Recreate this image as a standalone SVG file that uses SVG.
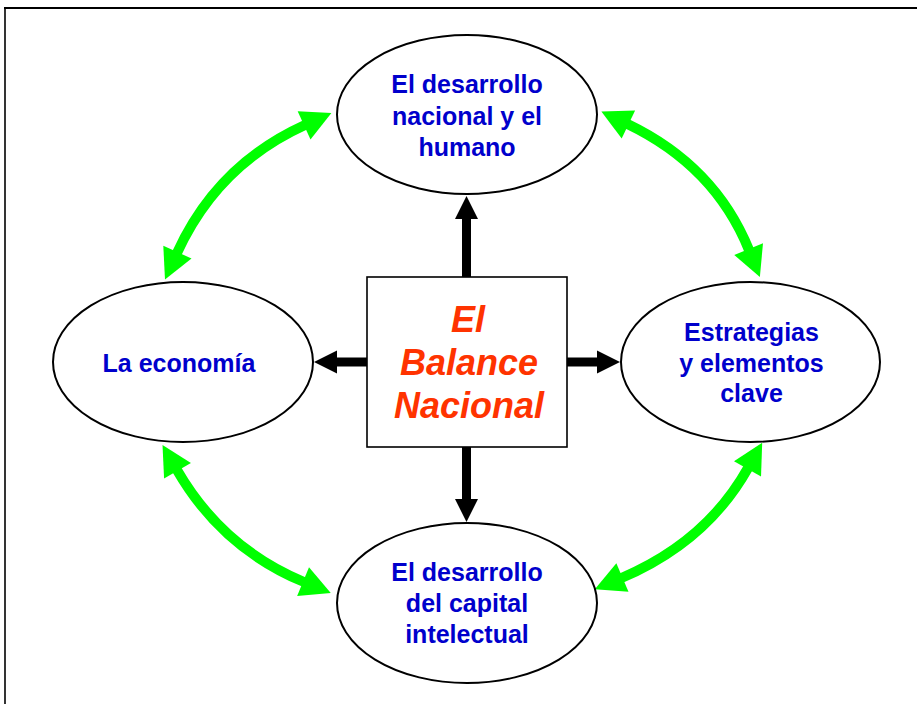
<svg xmlns="http://www.w3.org/2000/svg" width="917" height="704" viewBox="0 0 917 704">
<style>
.bg{fill:#ffffff}
.frame{stroke:#000;fill:none}
.node ellipse{fill:#fff;stroke:#000;stroke-width:2}
.node rect{fill:#fff;stroke:#000;stroke-width:1.6}
.lbl{font-family:"Liberation Sans",Arial,sans-serif;font-weight:bold;font-size:25px;fill:#0000CC;text-anchor:middle}
.title{font-family:"Liberation Sans",Arial,sans-serif;font-weight:bold;font-style:italic;font-size:36px;fill:#FF3300;text-anchor:middle}
.green{fill:none;stroke:#00FF00;stroke-width:10;marker-start:url(#gh);marker-end:url(#gh)}
.black{fill:none;stroke:#000;stroke-width:9;marker-end:url(#bh)}
</style>
<defs>
<marker id="gh" markerUnits="userSpaceOnUse" markerWidth="31" markerHeight="31" refX="1" refY="15.5" orient="auto-start-reverse" overflow="visible">
<path d="M0,0 L30,15.5 L0,31 z" fill="#00FF00"/>
</marker>
<marker id="bh" markerUnits="userSpaceOnUse" markerWidth="23" markerHeight="23" refX="1" refY="11.5" orient="auto" overflow="visible">
<path d="M0,0 L23,11.5 L0,23 z" fill="#000"/>
</marker>
</defs>
<rect class="bg" x="0" y="0" width="917" height="704"/>
<line class="frame" x1="4" y1="8" x2="917" y2="8" stroke-width="2"/>
<line class="frame" x1="5" y1="8" x2="5" y2="704" stroke-width="1.6"/>

<g id="connectors">
<path class="green" d="M305,125 Q217,165 177,253"/>
<path class="green" d="M627.5,124 Q715,166 749,250"/>
<path class="green" d="M177,470 Q222,548 304,582"/>
<path class="green" d="M748,468 Q706.6,541.8 621.5,578"/>
<line class="black" x1="466.5" y1="277" x2="466.5" y2="218"/>
<line class="black" x1="466.5" y1="447" x2="466.5" y2="500"/>
<line class="black" x1="367" y1="362" x2="336" y2="362"/>
<line class="black" x1="567" y1="362" x2="598" y2="362"/>
</g>

<g id="node-top" class="node">
<ellipse cx="467" cy="114.5" rx="130" ry="79.5"/>
<text class="lbl" x="467" y="93">El desarrollo</text>
<text class="lbl" x="467" y="124.5">nacional y el</text>
<text class="lbl" x="467" y="156">humano</text>
</g>

<g id="node-left" class="node">
<ellipse cx="183" cy="362" rx="130" ry="80"/>
<text class="lbl" x="179" y="372">La economía</text>
</g>

<g id="node-right" class="node">
<ellipse cx="750.5" cy="362" rx="129.5" ry="80"/>
<text class="lbl" x="751.5" y="341">Estrategias</text>
<text class="lbl" x="751.5" y="371.5">y elementos</text>
<text class="lbl" x="751.5" y="402">clave</text>
</g>

<g id="node-bottom" class="node">
<ellipse cx="467" cy="603" rx="130" ry="80"/>
<text class="lbl" x="467" y="581">El desarrollo</text>
<text class="lbl" x="467" y="612">del capital</text>
<text class="lbl" x="467" y="643">intelectual</text>
</g>

<g id="node-center" class="node">
<rect x="367" y="277" width="200" height="170"/>
<text class="title" x="468" y="332">El</text>
<text class="title" x="469" y="375">Balance</text>
<text class="title" x="469" y="418">Nacional</text>
</g>
</svg>
